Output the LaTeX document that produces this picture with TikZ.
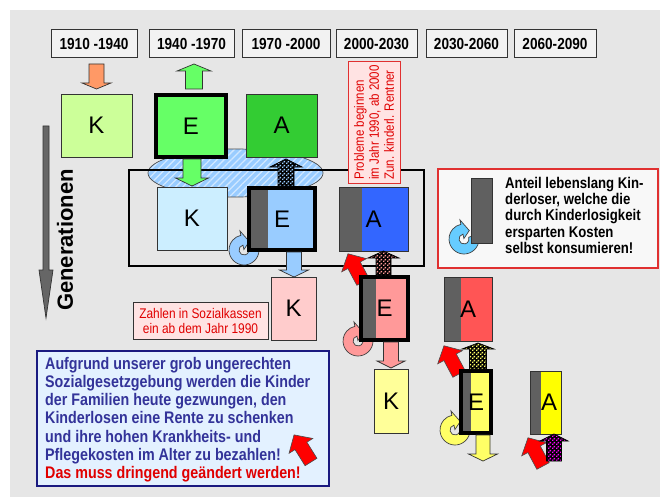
\documentclass[tikz,border=0pt]{standalone}
\usepackage{fontspec}
\setmainfont{Liberation Sans}
\newfontfamily\narrow[FakeStretch=0.85]{Liberation Sans}
\usetikzlibrary{patterns,patterns.meta}
\pgfdeclarepatternformonly{finechk}{\pgfpointorigin}{\pgfqpoint{3.6pt}{3.6pt}}{\pgfqpoint{3.6pt}{3.6pt}}{%
  \pgfpathrectangle{\pgfqpoint{0pt}{0pt}}{\pgfqpoint{1.6pt}{1.6pt}}%
  \pgfpathrectangle{\pgfqpoint{1.8pt}{1.8pt}}{\pgfqpoint{1.6pt}{1.6pt}}%
  \pgfusepath{fill}}
\definecolor{bgc}{HTML}{E6E6E6}
\definecolor{yearfill}{HTML}{F2F2F2}
\definecolor{kgreen}{HTML}{CCFF99}
\definecolor{egreen}{HTML}{66FF66}
\definecolor{agreen}{HTML}{33CC33}
\definecolor{kblue}{HTML}{CCEEFF}
\definecolor{eblue}{HTML}{99CCFF}
\definecolor{ablue}{HTML}{3366FF}
\definecolor{kpink}{HTML}{FFCCCC}
\definecolor{epink}{HTML}{FF9999}
\definecolor{ared}{HTML}{FF5555}
\definecolor{kyellow}{HTML}{FFFF99}
\definecolor{eyellow}{HTML}{FFFF66}
\definecolor{ayellow}{HTML}{FFFF00}
\definecolor{stripc}{HTML}{606060}
\definecolor{gray66}{HTML}{666666}
\definecolor{mag}{HTML}{FF00FF}
\definecolor{orangec}{HTML}{FF9966}
\definecolor{cyanring}{HTML}{66CCFF}
\definecolor{navytxt}{HTML}{333399}
\definecolor{navyline}{HTML}{1A1A80}
\definecolor{redtxt}{HTML}{E00000}
\definecolor{pinkfill}{HTML}{FFE3E3}
\definecolor{legfill}{HTML}{F8F8F8}
\definecolor{legline}{HTML}{E03030}
\definecolor{tbfill}{HTML}{E3F1FF}
\definecolor{arrred}{HTML}{FF0000}
\newcommand{\vblock}[7]{\path[#1] ({#2-#6},#3) -- ({#2-#6},#4) -- ({#2-#7},#4) -- (#2,#5) -- ({#2+#7},#4) -- ({#2+#6},#4) -- ({#2+#6},#3) -- cycle;}
\tikzset{
 pics/ring/.style={code={\path[fill=#1, draw=black!75, line width=0.7pt] (20:15pt) arc[start angle=20,end angle=-258,radius=15pt] -- (102:19.5pt) -- (58:10pt) -- (102:0.5pt) -- (102:5pt) arc[start angle=102,end angle=380,radius=5pt] -- cycle;}},
 pics/redarr/.style={code={\path[fill=arrred, draw=black!70, line width=0.6pt] (-7pt,0pt) -- (-7pt,19pt) -- (-14pt,19pt) -- (0pt,32pt) -- (14pt,19pt) -- (7pt,19pt) -- (7pt,0pt) -- cycle;}},
}
\begin{document}
\begin{tikzpicture}[x=1pt,y=-1pt,
  year/.style={draw=black!80, fill=yearfill, line width=1pt, minimum width=#1, minimum height=28pt, inner sep=0pt, font=\narrow\bfseries\fontsize{16}{18}\selectfont},
  box/.style={draw=black!80, line width=0.7pt, inner sep=0pt, font=\fontsize{24}{24}\selectfont},
  thickbox/.style={box, draw=black, line width=4pt},
  strip/.style={path picture={\fill[stripc] (path picture bounding box.north west) rectangle ([xshift=#1]path picture bounding box.south west);}},
  blk/.style={fill=#1, draw=black!80, line width=0.7pt},
  chk/.style={fill=black, postaction={pattern=finechk, pattern color=#1}, postaction={draw=black, line width=0.7pt}},
]
\useasboundingbox (0,0) rectangle (660,497);
\fill[white] (0,0) rectangle (660,497);
\fill[bgc] (10,10) rectangle (660,497);

% year labels
\node[year=86pt] (y1) at (94,44) {1910 -1940};
\node[year=85pt] (y2) at (191.5,44) {1940 -1970};
\node[year=88pt] (y3) at (286,44) {1970 -2000};
\node[year=81pt] (y4) at (376.5,44) {2000-2030};
\node[year=81pt] (y5) at (466.5,44) {2030-2060};
\node[year=82pt] (y6) at (555,44) {2060-2090};

% generations arrow
\vblock{blk=gray66}{46}{126}{270}{318}{3}{7}
\node[rotate=90, font=\bfseries\fontsize{22}{22}\selectfont] (gen) at (65,240) {Generationen};

% hatched ellipse
\path[fill=eblue, postaction={pattern={Lines[angle=45,distance=5pt,line width=1.3pt]}, pattern color=white!55!eblue}, postaction={draw=black!70, line width=0.7pt}] (235.5,173) ellipse [x radius=87.5pt, y radius=24pt];

% frame
\node[draw=black, line width=2.2pt, minimum width=295pt, minimum height=96pt, inner sep=0] (frame) at (276.5,218) {};

% red arrows behind boxes
\pic[rotate=28] at (363,282) {redarr};
\pic[rotate=28] at (459,374) {redarr};
\pic[rotate=28] at (543,466) {redarr};

% rings
\pic at (244,250) {ring=eblue};
\pic at (358,341) {ring=epink};
\pic at (455,430) {ring=eyellow};

% boxes
\node[box, fill=kgreen, minimum width=71pt, minimum height=63pt] (K1) at (96.5,125.5) {K};
\node[thickbox, fill=egreen, minimum width=70pt, minimum height=62pt] (E1) at (191,126) {E};
\node[box, fill=agreen, minimum width=71pt, minimum height=63pt] (A1) at (281.5,125.5) {A};
\node[box, fill=kblue, minimum width=70pt, minimum height=63pt] (K2) at (192,218.5) {K};
\node[thickbox, fill=eblue, strip=19pt, minimum width=66pt, minimum height=62pt] (E2) at (282,219) {E};
\node[box, fill=ablue, strip=23pt, minimum width=69pt, minimum height=64pt] (A2) at (373.5,219) {A};
\node[box, fill=kpink, minimum width=45pt, minimum height=63pt] (K3) at (293.5,308.5) {K};
\node[thickbox, fill=epink, strip=15pt, minimum width=47pt, minimum height=63pt] (E3) at (384.5,308.5) {E};
\node[box, fill=ared, strip=17pt, minimum width=48pt, minimum height=64pt] (A3) at (468,309) {A};
\node[box, fill=kyellow, minimum width=34pt, minimum height=64pt] (K4) at (391,401) {K};
\node[thickbox, fill=eyellow, strip=10pt, minimum width=30pt, minimum height=62pt] (E4) at (476,402) {E};
\node[box, fill=ayellow, strip=11pt, minimum width=31pt, minimum height=63pt] (A4) at (545.5,402.5) {\hspace*{7pt}A};

% block arrows
\vblock{blk=orangec}{96.5}{64}{83}{89}{7.5}{14.5}
\vblock{blk=egreen}{194}{89}{71}{64}{8.5}{17}
\vblock{blk=egreen}{192}{159}{178}{186}{9}{16.5}
\vblock{chk=eblue}{286}{186}{167}{159}{8}{16}
\vblock{blk=eblue}{294}{252}{270}{277}{7.5}{14.5}
\vblock{chk=epink}{383.5}{275}{258}{251}{7.5}{15.5}
\vblock{blk=epink}{391}{342}{361}{368}{7.5}{14}
\vblock{chk=eyellow}{478}{369}{349}{343}{8.5}{16}
\vblock{blk=eyellow}{483}{435}{454}{461}{7}{14.5}
\vblock{chk=mag}{554}{461}{441}{434}{7.5}{14}

% Probleme box
\node[rotate=90, draw=legline, fill=pinkfill, line width=1pt, minimum width=121pt, minimum height=52pt, inner sep=0, align=left, text=redtxt, font=\narrow\fontsize{13.5}{15}\selectfont] (prob) at (374,122.5) {Probleme beginnen\\im Jahr 1990, ab 2000\\Zun. kinderl. Rentner};

% Zahlen box
\node[draw=black!80, fill=pinkfill, line width=0.9pt, minimum width=135pt, minimum height=37pt, inner sep=0, align=center, text=redtxt, font=\narrow\fontsize{14}{15}\selectfont] (zahl) at (200.5,320.5) {Zahlen in Sozialkassen\\ein ab dem Jahr 1990};

% legend
\node[draw=legline, fill=legfill, line width=1.2pt, minimum width=220pt, minimum height=99pt, inner sep=0] (leg) at (548,218.5) {};
\pic at (464,239) {ring=cyanring};
\node[fill=stripc, draw=black!80, line width=0.7pt, minimum width=21pt, minimum height=65pt, inner sep=0] (legbar) at (481.5,210.5) {};
\node[anchor=north west, align=left, inner sep=0, font=\narrow\bfseries\fontsize{15.5}{16.25}\selectfont] (legtxt) at (505,177) {Anteil lebenslang Kin-\\derloser, welche die\\durch Kinderlosigkeit\\ersparten Kosten\\selbst konsumieren!};

% text box
\node[draw=navyline, fill=tbfill, line width=1.2pt, minimum width=292pt, minimum height=135pt, inner sep=0] (tbox) at (183,418.5) {};
\node[anchor=north west, align=left, inner sep=0, text=navytxt, font=\narrow\bfseries\fontsize{16.8}{18.2}\selectfont] (tbtxt) at (45,357) {Aufgrund unserer grob ungerechten\\Sozialgesetzgebung werden die Kinder\\der Familien heute gezwungen, den\\Kinderlosen eine Rente zu schenken\\und ihre hohen Krankheits- und\\Pflegekosten im Alter zu bezahlen!\\{\color{redtxt}Das muss dringend geändert werden!}};
\pic[rotate=32] at (311,462) {redarr};
\end{tikzpicture}
\end{document}
